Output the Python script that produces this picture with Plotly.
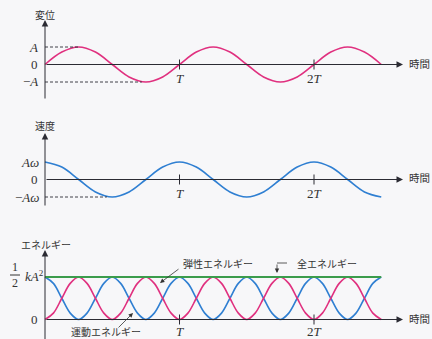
import plotly.graph_objects as go

# ---------------- data (time in units of the period T) ----------------
t_wave = [0, 0.125, 0.25, 0.375, 0.5, 0.625, 0.75, 0.875, 1.0, 1.125, 1.25,
          1.375, 1.5, 1.625, 1.75, 1.875, 2.0, 2.125, 2.25, 2.375, 2.5]
displacement = [0, 0.71, 1, 0.71, 0, -0.71, -1, -0.71, 0, 0.71, 1,
                0.71, 0, -0.71, -1, -0.71, 0, 0.71, 1, 0.71, 0]
velocity = [1, 0.71, 0, -0.71, -1, -0.71, 0, 0.71, 1, 0.71, 0,
            -0.71, -1, -0.71, 0, 0.71, 1, 0.71, 0, -0.71, -1]

t_energy = [0, 0.0625, 0.125, 0.1875, 0.25, 0.3125, 0.375, 0.4375, 0.5,
            0.5625, 0.625, 0.6875, 0.75, 0.8125, 0.875, 0.9375, 1.0,
            1.0625, 1.125, 1.1875, 1.25, 1.3125, 1.375, 1.4375, 1.5,
            1.5625, 1.625, 1.6875, 1.75, 1.8125, 1.875, 1.9375, 2.0,
            2.0625, 2.125, 2.1875, 2.25, 2.3125, 2.375, 2.4375, 2.5]
kinetic = [1, 0.85, 0.5, 0.15, 0, 0.15, 0.5, 0.85, 1,
           0.85, 0.5, 0.15, 0, 0.15, 0.5, 0.85, 1,
           0.85, 0.5, 0.15, 0, 0.15, 0.5, 0.85, 1,
           0.85, 0.5, 0.15, 0, 0.15, 0.5, 0.85, 1,
           0.85, 0.5, 0.15, 0, 0.15, 0.5, 0.85, 1]
elastic = [0, 0.15, 0.5, 0.85, 1, 0.85, 0.5, 0.15, 0,
           0.15, 0.5, 0.85, 1, 0.85, 0.5, 0.15, 0,
           0.15, 0.5, 0.85, 1, 0.85, 0.5, 0.15, 0,
           0.15, 0.5, 0.85, 1, 0.85, 0.5, 0.15, 0,
           0.15, 0.5, 0.85, 1, 0.85, 0.5, 0.15, 0]
total_t = [0, 2.5]
total = [1, 1]

tick_times = [1, 2]
tick_labels = ["<i>T</i>", "2<i>T</i>"]

# ---------------- geometry ----------------
W, H = 432, 339
X0, PXT = 45, 134.5           # pixel of t=0, pixels per period
panels = {                    # zero-line pixel, pixels per unit
    "y": (64.5, 17.5),
    "y2": (179.5, 17.5),
    "y3": (319.5, 42.5),
}

PINK = "#e0307f"
BLUE = "#2f7fd2"
GREEN = "#3b9c4c"
AX = "#2b2b33"
BG = "#f7f7f9"
JP = "Noto Sans CJK JP"
SERIF = "Liberation Serif"


def px(x):
    return x / W


def py(y):
    return 1 - y / H


fig = go.Figure()
fig.add_trace(go.Scatter(x=t_wave, y=displacement, yaxis="y", mode="lines",
                         line=dict(color=PINK, width=1.6, shape="spline", smoothing=1.0)))
fig.add_trace(go.Scatter(x=t_wave, y=velocity, yaxis="y2", mode="lines",
                         line=dict(color=BLUE, width=1.6, shape="spline", smoothing=1.0)))
fig.add_trace(go.Scatter(x=t_energy, y=kinetic, yaxis="y3", mode="lines",
                         line=dict(color=BLUE, width=1.6, shape="spline", smoothing=1.0)))
fig.add_trace(go.Scatter(x=t_energy, y=elastic, yaxis="y3", mode="lines",
                         line=dict(color=PINK, width=1.6, shape="spline", smoothing=1.0)))
fig.add_trace(go.Scatter(x=total_t, y=total, yaxis="y3", mode="lines",
                         line=dict(color=GREEN, width=1.8)))

xr = [-X0 / PXT, (W - X0) / PXT]
layout_axes = {}
for key, (z, s) in panels.items():
    name = "yaxis" if key == "y" else "yaxis" + key[1:]
    d = dict(range=[(z - H) / s, z / s], visible=False, fixedrange=True)
    if key != "y":
        d["overlaying"] = "y"
    layout_axes[name] = d

shapes = []
annotations = []

x_end = (403 - X0) / PXT
axis_tops = {"y": 20, "y2": 133, "y3": 250}
axis_bottoms = {"y": 100, "y2": 207, "y3": 345}
for key, (z, s) in panels.items():
    vt = (z - axis_tops[key]) / s
    vb = (z - axis_bottoms[key]) / s
    annotations.append(dict(x=0, y=vt, ax=0, ay=vb, xref="x", yref=key, axref="x", ayref=key,
                            text="", showarrow=True, arrowhead=2, arrowsize=1.3,
                            arrowwidth=1, arrowcolor=AX, standoff=0))
    annotations.append(dict(x=x_end, y=0, ax=0, ay=0, xref="x", yref=key, axref="x", ayref=key,
                            text="", showarrow=True, arrowhead=2, arrowsize=1.3,
                            arrowwidth=1, arrowcolor=AX, standoff=0))
    h = 5 / s
    for tt in tick_times:
        shapes.append(dict(type="line", xref="x", yref=key, x0=tt, x1=tt, y0=-h, y1=h,
                           line=dict(color=AX, width=1)))

# dashed guides
DASH = "3px,2px"
shapes.append(dict(type="line", xref="x", yref="y", x0=0, x1=0.25, y0=1, y1=1,
                   line=dict(color=AX, width=0.9, dash=DASH)))
shapes.append(dict(type="line", xref="x", yref="y", x0=0, x1=0.72, y0=-1, y1=-1,
                   line=dict(color=AX, width=0.9, dash=DASH)))
shapes.append(dict(type="line", xref="x", yref="y2", x0=0, x1=0.46, y0=-1, y1=-1,
                   line=dict(color=AX, width=0.9, dash=DASH)))


def txt(text, x, y, xanchor="center", size=10, family=JP, color="#333"):
    annotations.append(dict(text=text, x=px(x), y=py(y), xref="paper", yref="paper",
                            xanchor=xanchor, yanchor="middle", showarrow=False,
                            font=dict(family=family, size=size, color=color)))


# panel titles
txt("変位", 45, 15)
txt("速度", 45, 125)
txt("エネルギー", 46, 244)
for yy in (63, 177, 318):
    txt("時間", 419, yy, size=10.5)

# value labels
txt("<i>A</i>", 40, 47, "right", 13, SERIF)
txt("0", 40, 64.5, "right", 13, SERIF)
txt("−<i>A</i>", 40, 82, "right", 13, SERIF)
txt("<i>Aω</i>", 41, 162, "right", 13, SERIF)
txt("0", 40, 179.5, "right", 13, SERIF)
txt("−<i>Aω</i>", 41, 197, "right", 13, SERIF)
txt("1", 15, 267, "center", 12, SERIF)
txt("2", 15, 283, "center", 12, SERIF)
shapes.append(dict(type="line", xref="paper", yref="paper", x0=px(10), x1=px(20),
                   y0=py(275), y1=py(275), line=dict(color="#333", width=1)))
txt("<i>kA</i><sup>2</sup>", 23, 276, "left", 13, SERIF)
txt("0", 40, 319.5, "right", 13, SERIF)

# T / 2T labels
for ypos in (78, 193, 331):
    for tt, lab in zip(tick_times, tick_labels):
        annotations.append(dict(text=lab, x=tt, y=py(ypos), xref="x", yref="paper",
                                xanchor="center", yanchor="middle", showarrow=False,
                                font=dict(family=SERIF, size=13, color="#333")))

# energy labels with leaders
txt("弾性エネルギー", 181, 263, "left", 10)
txt("全エネルギー", 295, 263, "left", 10)
txt("運動エネルギー", 106, 331.5, "center", 10)


def arrow(hx, hy, tx, ty):
    annotations.append(dict(x=px(hx), y=py(hy), xref="paper", yref="paper",
                            ax=tx - hx, ay=ty - hy, axref="pixel", ayref="pixel",
                            text="", showarrow=True, arrowhead=2, arrowsize=1.1,
                            arrowwidth=0.8, arrowcolor="#333", standoff=0))


arrow(160, 283, 180, 268)
arrow(133, 313, 117, 329)
arrow(277, 273, 277, 263)
shapes.append(dict(type="line", xref="paper", yref="paper", x0=px(277), x1=px(287),
                   y0=py(263), y1=py(263), line=dict(color="#333", width=0.8)))

fig.update_layout(
    width=W, height=H, autosize=False,
    margin=dict(l=0, r=0, t=0, b=0),
    paper_bgcolor=BG, plot_bgcolor=BG,
    showlegend=False,
    xaxis=dict(range=xr, visible=False, fixedrange=True),
    shapes=shapes, annotations=annotations,
    **layout_axes,
)

fig.write_html("out.html", config={"displayModeBar": False},
               post_script="document.body.style.margin='0';")
